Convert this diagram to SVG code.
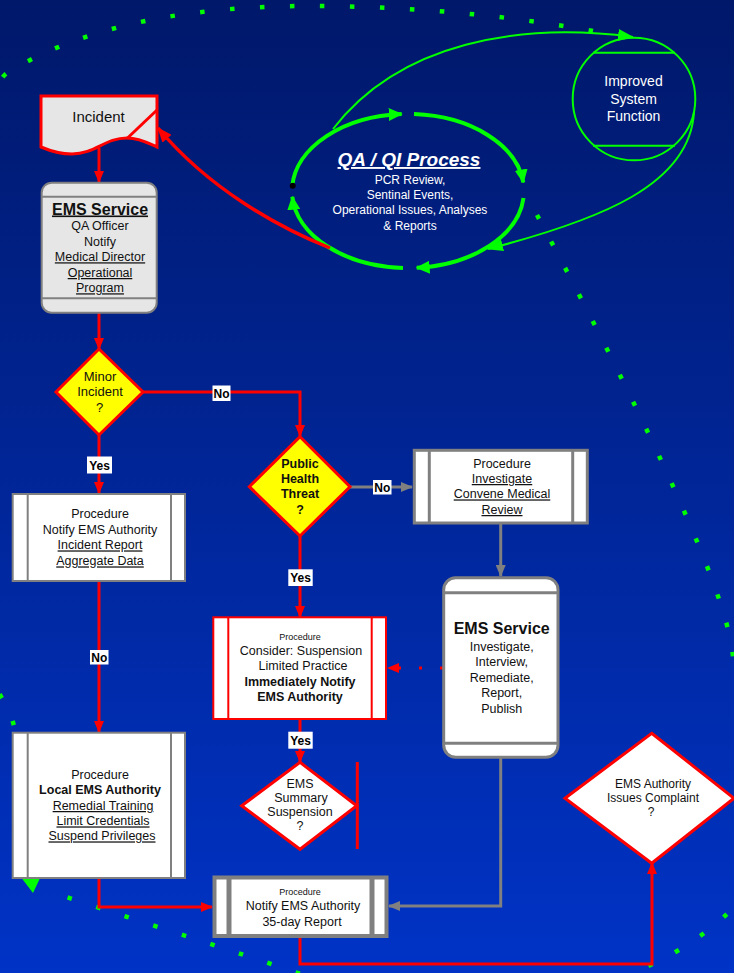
<svg xmlns="http://www.w3.org/2000/svg" width="734" height="973" viewBox="0 0 734 973">
  <defs>
    <linearGradient id="bg" x1="0" y1="0" x2="0" y2="1">
      <stop offset="0" stop-color="#00186a"/>
      <stop offset="1" stop-color="#0033c6"/>
    </linearGradient>
    <marker id="arRed" markerUnits="userSpaceOnUse" markerWidth="12" markerHeight="10" refX="11" refY="5" orient="auto">
      <path d="M0,0 L12,5 L0,10 z" fill="#ff0000"/>
    </marker>
    <marker id="arGray" markerUnits="userSpaceOnUse" markerWidth="12" markerHeight="10" refX="11" refY="5" orient="auto">
      <path d="M0,0 L12,5 L0,10 z" fill="#808080"/>
    </marker>
    <marker id="arRedBig" markerUnits="userSpaceOnUse" markerWidth="15" markerHeight="12" refX="14" refY="6" orient="auto">
      <path d="M0,0 L15,6 L0,12 z" fill="#ff0000"/>
    </marker>
    <marker id="arGreen" markerUnits="userSpaceOnUse" markerWidth="14" markerHeight="13" refX="13" refY="6.5" orient="auto">
      <path d="M0,0 L14,6.5 L0,13 z" fill="#00ff00"/>
    </marker>
    <marker id="arGreenThin" markerUnits="userSpaceOnUse" markerWidth="16" markerHeight="12" refX="15" refY="6" orient="auto">
      <path d="M0,0 L16,6 L0,12 z" fill="#00ff00"/>
    </marker>
    <style>
      .t{font-family:"Liberation Sans",Arial,sans-serif;fill:#111;text-anchor:middle;font-size:12.5px}
      .w{fill:#ffffff}
      .b{font-weight:bold}
      .u{text-decoration:underline}
      .s9{font-size:9px}
      .red{fill:none;stroke:#ff0000;stroke-width:3}
      .gray{fill:none;stroke:#808080;stroke-width:3}
      .loop{fill:none;stroke:#00ff00;stroke-width:4}
      .thin{fill:none;stroke:#00ff00;stroke-width:2}
      .dots{fill:none;stroke:#00ff00;stroke-width:4.5;stroke-dasharray:4.5 25.5}
      .lbl{fill:#ffffff}
      .lt{font-family:"Liberation Sans",Arial,sans-serif;font-weight:bold;font-size:12px;fill:#000;text-anchor:middle}
      .proc{fill:#ffffff;stroke:#808080;stroke-width:2}
      .dia{stroke:#ff0000;stroke-width:3}
    </style>
  </defs>

  <rect x="0" y="0" width="734" height="973" fill="url(#bg)"/>

  <!-- large dotted improvement cycle -->
  <g id="cycle">
    <path class="dots" d="M593,31 C500,14 400,6 310,6 C200,6 90,22 7,73 C-40,102 -60,620 6,704 C18,725 30,800 30,877"/>
    <path class="dots" d="M537,215 C580,295 720,560 732,649 C744,738 770,870 733,908 C700,942 620,1000 480,1000 C400,1000 330,985 292,971 C200,940 120,915 45,890"/>
    <polygon points="20,876 41,876 33,893" fill="#00ff00"/>
  </g>

  <g id="connectors">
    <path class="red" d="M99,148 L99,182" marker-end="url(#arRed)"/>
    <path class="red" d="M99,313 L99,349" marker-end="url(#arRed)"/>
    <path class="red" d="M143,392 L300,392 L300,436" marker-end="url(#arRed)"/>
    <path class="red" d="M99,435 L99,493" marker-end="url(#arRed)"/>
    <path class="red" d="M99,581 L99,732" marker-end="url(#arRed)"/>
    <path class="red" d="M99,878 L99,907 L212,907" marker-end="url(#arRed)"/>
    <path class="red" d="M300,937 L300,964 L652,964 L652,863" marker-end="url(#arRed)"/>
    <path class="gray" d="M350,487 L412,487" marker-end="url(#arGray)"/>
    <path class="gray" d="M500.7,524 L500.7,576" marker-end="url(#arGray)"/>
    <path class="gray" d="M500.7,758 L500.7,906 L389,906" marker-end="url(#arGray)"/>
    <path class="red" d="M300,536 L300,617" marker-end="url(#arRed)"/>
    <path class="red" d="M300,719 L300,762" marker-end="url(#arRed)"/>
    <path d="M443,668 L388,668" fill="none" stroke="#ff0000" stroke-width="3" stroke-dasharray="3 18" marker-end="url(#arRed)"/>
    <line x1="357.3" y1="762" x2="357.3" y2="849" stroke="#ff0000" stroke-width="3"/>

    <!-- QA / QI loop -->
    <path class="loop" d="M292.3,185.7 A116,77 0 0,1 401.7,114.1" marker-end="url(#arGreen)"/>
    <path class="loop" d="M414,114.1 A116,77 0 0,1 523.3,182.5" marker-end="url(#arGreen)"/>
    <path class="loop" d="M523.5,198 A116,77 0 0,1 416.7,267.8" marker-end="url(#arGreen)"/>
    <path class="loop" d="M403,267.9 A116,77 0 0,1 292.3,196.7" marker-end="url(#arGreen)"/>
    <circle cx="292.7" cy="185.7" r="3" fill="#000"/>
    <path class="thin" d="M333,129 C400,42 520,22 633,37" marker-end="url(#arGreenThin)"/>
    <path class="thin" d="M694,112 C690,185 600,220 488,249" marker-end="url(#arGreenThin)"/>
    <path d="M330,248 C280,228 210,190 158,128" fill="none" stroke="#ff0000" stroke-width="3.5" marker-end="url(#arRedBig)"/>

    <!-- branch labels -->
    <rect class="lbl" x="212.5" y="385.5" width="18" height="15.5"/>
    <text class="lt" x="221.5" y="397.5">No</text>
    <rect class="lbl" x="87" y="456.5" width="25" height="17"/>
    <text class="lt" x="99.5" y="469.5">Yes</text>
    <rect class="lbl" x="90" y="650" width="18.5" height="14.5"/>
    <text class="lt" x="99.3" y="661.8">No</text>
    <rect class="lbl" x="373" y="480" width="18.5" height="14.5"/>
    <text class="lt" x="382.3" y="491.8">No</text>
    <rect class="lbl" x="288.3" y="569.3" width="24.4" height="16.7"/>
    <text class="lt" x="300.5" y="582">Yes</text>
    <rect class="lbl" x="288.3" y="731.7" width="24.4" height="17"/>
    <text class="lt" x="300.5" y="744.5">Yes</text>
  </g>

  <g id="incident">
    <path d="M41,96 L157,96 L157,147 C150,144 140,138 127,138 C105,138 95,154 72,154 C58,154 48,150 41,147 Z" fill="#e6e6e6" stroke="#ff0000" stroke-width="3"/>
    <line x1="127" y1="138.5" x2="157" y2="110" stroke="#ff0000" stroke-width="3"/>
    <text class="t" x="98.5" y="122" style="font-size:15px">Incident</text>
  </g>

  <g id="ems-service-qa">
    <rect x="41.7" y="182.7" width="115" height="130" rx="10" fill="#e6e6e6" stroke="#808080" stroke-width="2"/>
    <line x1="41.7" y1="196.7" x2="156.7" y2="196.7" stroke="#808080" stroke-width="2"/>
    <line x1="41.7" y1="298.3" x2="156.7" y2="298.3" stroke="#808080" stroke-width="2"/>
    <text class="t b u" x="100" y="214.5" style="font-size:16px">EMS Service</text>
    <text class="t" x="100" y="230">QA Officer</text>
    <text class="t" x="100" y="245.5">Notify</text>
    <text class="t u" x="100" y="261.3">Medical Director</text>
    <text class="t u" x="100" y="277">Operational</text>
    <text class="t u" x="100" y="292.3">Program</text>
  </g>

  <g id="minor-incident">
    <polygon class="dia" points="99,349 143,392 99,435 56,392" fill="#ffff00"/>
    <text class="t" x="100" y="381.3" style="font-size:13px">Minor</text>
    <text class="t" x="100" y="396.3" style="font-size:13px">Incident</text>
    <text class="t" x="99.5" y="411.5" style="font-size:13px">?</text>
  </g>

  <g id="notify-authority">
    <rect class="proc" x="12.7" y="494" width="172.3" height="87"/>
    <line x1="27.7" y1="494" x2="27.7" y2="581" stroke="#808080" stroke-width="2"/>
    <line x1="171" y1="494" x2="171" y2="581" stroke="#808080" stroke-width="2"/>
    <text class="t" x="100" y="518">Procedure</text>
    <text class="t" x="100" y="533.7">Notify EMS Authority</text>
    <text class="t u" x="100" y="549.4">Incident Report</text>
    <text class="t u" x="100" y="565.4">Aggregate Data</text>
  </g>

  <g id="local-authority">
    <rect class="proc" x="12.7" y="732.7" width="172.3" height="145.3"/>
    <line x1="27.7" y1="732.7" x2="27.7" y2="878" stroke="#808080" stroke-width="2"/>
    <line x1="171" y1="732.7" x2="171" y2="878" stroke="#808080" stroke-width="2"/>
    <text class="t" x="100" y="778.7">Procedure</text>
    <text class="t b" x="100" y="794.4">Local EMS Authority</text>
    <text class="t u" x="103" y="810">Remedial Training</text>
    <text class="t u" x="103" y="825.4">Limit Credentials</text>
    <text class="t u" x="102" y="840.4">Suspend Privileges</text>
  </g>

  <g id="report-35-day">
    <rect x="214.5" y="877.5" width="172" height="58.5" fill="#ffffff" stroke="#808080" stroke-width="4"/>
    <line x1="229" y1="877.5" x2="229" y2="936" stroke="#808080" stroke-width="5"/>
    <line x1="372" y1="877.5" x2="372" y2="936" stroke="#808080" stroke-width="5"/>
    <text class="t s9" x="300" y="894.9">Procedure</text>
    <text class="t" x="303" y="910.4">Notify EMS Authority</text>
    <text class="t" x="302" y="926.4">35-day Report</text>
  </g>

  <g id="public-health-threat">
    <polygon class="dia" points="300,436.7 350,486.7 300,536 249.3,486.7" fill="#ffff00"/>
    <text class="t b" x="300" y="467.7">Public</text>
    <text class="t b" x="300" y="483.4">Health</text>
    <text class="t b" x="300" y="498">Threat</text>
    <text class="t b" x="300" y="513.7">?</text>
  </g>

  <g id="investigate">
    <rect x="414.3" y="450.3" width="173" height="72.7" fill="#ffffff" stroke="#808080" stroke-width="3"/>
    <line x1="429.3" y1="450.3" x2="429.3" y2="523" stroke="#808080" stroke-width="3"/>
    <line x1="572.7" y1="450.3" x2="572.7" y2="523" stroke="#808080" stroke-width="3"/>
    <text class="t" x="502" y="467.7">Procedure</text>
    <text class="t u" x="502" y="483">Investigate</text>
    <text class="t u" x="502" y="498.4">Convene Medical</text>
    <text class="t u" x="502" y="514">Review</text>
  </g>

  <g id="ems-service-investigate">
    <rect x="443.7" y="577.7" width="114.3" height="179.6" rx="12" fill="#ffffff" stroke="#808080" stroke-width="3"/>
    <line x1="443.7" y1="592.7" x2="558" y2="592.7" stroke="#808080" stroke-width="3"/>
    <line x1="443.7" y1="743.3" x2="558" y2="743.3" stroke="#808080" stroke-width="3"/>
    <text class="t b" x="501.7" y="634.3" style="font-size:16px">EMS Service</text>
    <text class="t" x="501.7" y="651.4">Investigate,</text>
    <text class="t" x="501.7" y="666.4">Interview,</text>
    <text class="t" x="501.7" y="682">Remediate,</text>
    <text class="t" x="501.7" y="697.4">Report,</text>
    <text class="t" x="501.7" y="713">Publish</text>
  </g>

  <g id="consider-suspension">
    <rect x="213.3" y="617.3" width="172.7" height="101.7" fill="#ffffff" stroke="#ff0000" stroke-width="2"/>
    <line x1="228.3" y1="617.3" x2="228.3" y2="719" stroke="#ff0000" stroke-width="2"/>
    <line x1="371.7" y1="617.3" x2="371.7" y2="719" stroke="#ff0000" stroke-width="2"/>
    <text class="t s9" x="300" y="639.9">Procedure</text>
    <text class="t" x="301" y="655">Consider: Suspension</text>
    <text class="t" x="303" y="670">Limited Practice</text>
    <text class="t b" x="300" y="686">Immediately Notify</text>
    <text class="t b" x="300" y="701">EMS Authority</text>
  </g>

  <g id="summary-suspension">
    <polygon class="dia" points="300,762.3 356.7,805.7 300,849.3 241.7,805.7" fill="#ffffff"/>
    <text class="t" x="300" y="787.6">EMS</text>
    <text class="t" x="301" y="802">Summary</text>
    <text class="t" x="300" y="816">Suspension</text>
    <text class="t" x="300" y="830.3">?</text>
  </g>

  <g id="authority-complaint">
    <polygon class="dia" points="651.7,733.3 734,798.3 651.7,863.3 565,798.3" fill="#ffffff"/>
    <text class="t" x="653" y="787.5" style="font-size:12px">EMS Authority</text>
    <text class="t" x="653" y="802" style="font-size:12px">Issues Complaint</text>
    <text class="t" x="651" y="816.2" style="font-size:12px">?</text>
  </g>

  <g id="qa-qi-process">
    <text class="t w b u" x="409" y="166" style="font-size:19px;font-style:italic">QA / QI Process</text>
    <text class="t w" x="410" y="184.2" style="font-size:12px">PCR Review,</text>
    <text class="t w" x="410" y="198.5" style="font-size:12px">Sentinal Events,</text>
    <text class="t w" x="410" y="214.2" style="font-size:12px">Operational Issues, Analyses</text>
    <text class="t w" x="410" y="230.2" style="font-size:12px">&amp; Reports</text>
  </g>

  <g id="improved-function">
    <circle cx="634" cy="99" r="61.3" fill="none" stroke="#00ff00" stroke-width="2"/>
    <line x1="593" y1="52.7" x2="675" y2="52.7" stroke="#00ff00" stroke-width="2"/>
    <line x1="593" y1="145.7" x2="675" y2="145.7" stroke="#00ff00" stroke-width="2"/>
    <text class="t w" x="633.5" y="86" style="font-size:14px">Improved</text>
    <text class="t w" x="633.5" y="104" style="font-size:14px">System</text>
    <text class="t w" x="633.5" y="121" style="font-size:14px">Function</text>
  </g>
</svg>
